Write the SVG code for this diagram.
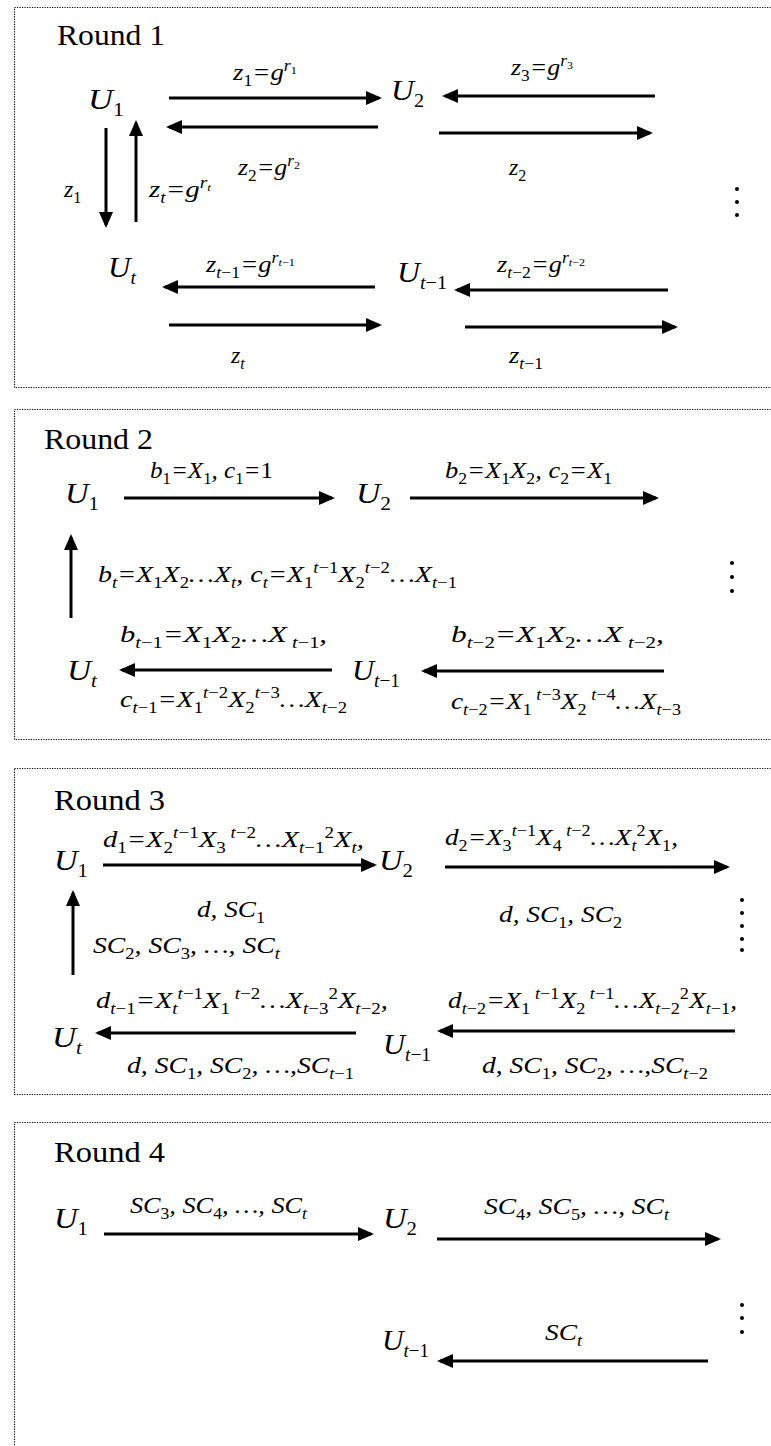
<svg xmlns="http://www.w3.org/2000/svg" width="771" height="1446" viewBox="0 0 771 1446">
<style>
text{font-family:"Liberation Serif","Times New Roman",serif;fill:#000}
.rd{font-size:30px}
.nd{font-size:30px;font-style:italic}
.ns{font-size:19px;baseline-shift:-7px}
.lb{font-size:24px;font-style:italic}
.s{font-size:16px;baseline-shift:-6px}
.p{font-size:16px;baseline-shift:9px}
.q{font-size:11px;baseline-shift:-3px}
.n{font-style:normal}
.bx{fill:none;stroke:#000;stroke-width:1.2;stroke-dasharray:1.2 1.3}
.ar{stroke:#000;stroke-width:3;fill:none;marker-end:url(#ah)}
.dt{fill:#000}
</style>
<defs>
<marker id="ah" viewBox="0 0 16 14" refX="13" refY="7" markerWidth="16" markerHeight="14" markerUnits="userSpaceOnUse" orient="auto">
<path d="M0,0 L16,7 L0,14 z" fill="#000"/>
</marker>
</defs>
<rect fill="#fff" x="0" y="0" width="771" height="1446"/>

<g id="frames">
<rect class="bx" x="14.5" y="7.5" width="780" height="380"/>
<rect class="bx" x="14.5" y="409.5" width="780" height="330"/>
<rect class="bx" x="14.5" y="768.5" width="780" height="326"/>
<rect class="bx" x="14.5" y="1122.5" width="780" height="400"/>
<text class="rd" x="57" y="45" textLength="108" lengthAdjust="spacingAndGlyphs">Round 1</text>
<text class="rd" x="44" y="449" textLength="109" lengthAdjust="spacingAndGlyphs">Round 2</text>
<text class="rd" x="54" y="810" textLength="111" lengthAdjust="spacingAndGlyphs">Round 3</text>
<text class="rd" x="54" y="1162" textLength="111" lengthAdjust="spacingAndGlyphs">Round 4</text>
</g>

<g id="r1-u1"><text class="nd" x="88" y="109" textLength="36" lengthAdjust="spacingAndGlyphs">U<tspan class="ns n">1</tspan></text></g>
<g id="r1-u2"><text class="nd" x="391" y="100" textLength="33" lengthAdjust="spacingAndGlyphs">U<tspan class="ns n">2</tspan></text></g>
<g id="r1-ut"><text class="nd" x="108" y="277" textLength="28" lengthAdjust="spacingAndGlyphs">U<tspan class="ns">t</tspan></text></g>
<g id="r1-ut1"><text class="nd" x="397" y="282" textLength="50" lengthAdjust="spacingAndGlyphs">U<tspan class="ns">t<tspan class="n">−1</tspan></tspan></text></g>

<g id="r2-u1"><text class="nd" x="65" y="503" textLength="34" lengthAdjust="spacingAndGlyphs">U<tspan class="ns n">1</tspan></text></g>
<g id="r2-u2"><text class="nd" x="356" y="503" textLength="35" lengthAdjust="spacingAndGlyphs">U<tspan class="ns n">2</tspan></text></g>
<g id="r2-ut"><text class="nd" x="67" y="680" textLength="30" lengthAdjust="spacingAndGlyphs">U<tspan class="ns">t</tspan></text></g>
<g id="r2-ut1"><text class="nd" x="352" y="680" textLength="48" lengthAdjust="spacingAndGlyphs">U<tspan class="ns">t<tspan class="n">−1</tspan></tspan></text></g>

<g id="r3-u1"><text class="nd" x="54" y="870" textLength="34" lengthAdjust="spacingAndGlyphs">U<tspan class="ns n">1</tspan></text></g>
<g id="r3-u2"><text class="nd" x="379" y="870" textLength="34" lengthAdjust="spacingAndGlyphs">U<tspan class="ns n">2</tspan></text></g>
<g id="r3-ut"><text class="nd" x="52" y="1047" textLength="30" lengthAdjust="spacingAndGlyphs">U<tspan class="ns">t</tspan></text></g>
<g id="r3-ut1"><text class="nd" x="383" y="1054" textLength="48" lengthAdjust="spacingAndGlyphs">U<tspan class="ns">t<tspan class="n">−1</tspan></tspan></text></g>

<g id="r4-u1"><text class="nd" x="54" y="1228" textLength="34" lengthAdjust="spacingAndGlyphs">U<tspan class="ns n">1</tspan></text></g>
<g id="r4-u2"><text class="nd" x="383" y="1228" textLength="34" lengthAdjust="spacingAndGlyphs">U<tspan class="ns n">2</tspan></text></g>
<g id="r4-ut1"><text class="nd" x="382" y="1350" textLength="47" lengthAdjust="spacingAndGlyphs">U<tspan class="ns">t<tspan class="n">−1</tspan></tspan></text></g>

<g id="connectors">
<line class="ar" x1="169" y1="98" x2="379" y2="98"/>
<line class="ar" x1="655" y1="96" x2="445" y2="96"/>
<line class="ar" x1="378" y1="127" x2="169" y2="127"/>
<line class="ar" x1="439" y1="133" x2="650" y2="133"/>
<line class="ar" x1="106" y1="128" x2="106" y2="225"/>
<line class="ar" x1="136" y1="222" x2="136" y2="123"/>
<line class="ar" x1="375" y1="287" x2="165" y2="287"/>
<line class="ar" x1="668" y1="290" x2="457" y2="290"/>
<line class="ar" x1="169" y1="325" x2="379" y2="325"/>
<line class="ar" x1="465" y1="327" x2="675" y2="327"/>

<line class="ar" x1="124" y1="498" x2="332" y2="498"/>
<line class="ar" x1="410" y1="498" x2="656" y2="498"/>
<line class="ar" x1="71" y1="618" x2="71" y2="537"/>
<line class="ar" x1="332" y1="670" x2="122" y2="670"/>
<line class="ar" x1="664" y1="671" x2="424" y2="671"/>

<line class="ar" x1="103" y1="865" x2="374" y2="865"/>
<line class="ar" x1="445" y1="867" x2="727" y2="867"/>
<line class="ar" x1="73" y1="975" x2="73" y2="893"/>
<line class="ar" x1="356" y1="1033" x2="98" y2="1033"/>
<line class="ar" x1="735" y1="1031" x2="440" y2="1031"/>

<line class="ar" x1="104" y1="1234" x2="371" y2="1234"/>
<line class="ar" x1="437" y1="1239" x2="718" y2="1239"/>
<line class="ar" x1="708" y1="1361" x2="440" y2="1361"/>
</g>

<g id="labels">
<text class="lb" x="233" y="80" textLength="64" lengthAdjust="spacingAndGlyphs">z<tspan class="s n">1</tspan>=g<tspan class="p">r<tspan class="q n">1</tspan></tspan></text>
<text class="lb" x="511" y="75" textLength="62" lengthAdjust="spacingAndGlyphs">z<tspan class="s n">3</tspan>=g<tspan class="p">r<tspan class="q n">3</tspan></tspan></text>
<text class="lb" x="238" y="175" textLength="62" lengthAdjust="spacingAndGlyphs">z<tspan class="s n">2</tspan>=g<tspan class="p">r<tspan class="q n">2</tspan></tspan></text>
<text class="lb" x="509" y="175">z<tspan class="s n">2</tspan></text>
<text class="lb" x="64" y="197">z<tspan class="s n">1</tspan></text>
<text class="lb" x="149" y="197" textLength="62" lengthAdjust="spacingAndGlyphs">z<tspan class="s">t</tspan>=g<tspan class="p">r<tspan class="q">t</tspan></tspan></text>
<text class="lb" x="206" y="272" textLength="89" lengthAdjust="spacingAndGlyphs">z<tspan class="s">t<tspan class="n">−1</tspan></tspan>=g<tspan class="p">r<tspan class="q">t<tspan class="n">−1</tspan></tspan></tspan></text>
<text class="lb" x="497" y="272" textLength="88" lengthAdjust="spacingAndGlyphs">z<tspan class="s">t<tspan class="n">−2</tspan></tspan>=g<tspan class="p">r<tspan class="q">t<tspan class="n">−2</tspan></tspan></tspan></text>
<text class="lb" x="231" y="363">z<tspan class="s">t</tspan></text>
<text class="lb" x="509" y="363" textLength="34" lengthAdjust="spacingAndGlyphs">z<tspan class="s">t<tspan class="n">−1</tspan></tspan></text>

<text class="lb" x="150" y="478" textLength="123" lengthAdjust="spacingAndGlyphs">b<tspan class="s n">1</tspan>=X<tspan class="s n">1</tspan>, c<tspan class="s n">1</tspan>=<tspan class="n">1</tspan></text>
<text class="lb" x="445" y="478" textLength="167" lengthAdjust="spacingAndGlyphs">b<tspan class="s n">2</tspan>=X<tspan class="s n">1</tspan>X<tspan class="s n">2</tspan>, c<tspan class="s n">2</tspan>=X<tspan class="s n">1</tspan></text>
<text class="lb" x="98" y="582" textLength="359" lengthAdjust="spacingAndGlyphs">b<tspan class="s">t</tspan>=X<tspan class="s n">1</tspan>X<tspan class="s n">2</tspan>…X<tspan class="s">t</tspan>, c<tspan class="s">t</tspan>=X<tspan class="s n">1</tspan><tspan class="p">t<tspan class="n">−1</tspan></tspan>X<tspan class="s n">2</tspan><tspan class="p">t<tspan class="n">−2</tspan></tspan>…X<tspan class="s">t<tspan class="n">−1</tspan></tspan></text>
<text class="lb" x="120" y="642" textLength="207" lengthAdjust="spacingAndGlyphs">b<tspan class="s">t<tspan class="n">−1</tspan></tspan>=X<tspan class="s n">1</tspan>X<tspan class="s n">2</tspan>…X<tspan class="s"> t<tspan class="n">−1</tspan></tspan>,</text>
<text class="lb" x="451" y="642" textLength="213" lengthAdjust="spacingAndGlyphs">b<tspan class="s">t<tspan class="n">−2</tspan></tspan>=X<tspan class="s n">1</tspan>X<tspan class="s n">2</tspan>…X<tspan class="s"> t<tspan class="n">−2</tspan></tspan>,</text>
<text class="lb" x="120" y="707" textLength="227" lengthAdjust="spacingAndGlyphs">c<tspan class="s">t<tspan class="n">−1</tspan></tspan>=X<tspan class="s n">1</tspan><tspan class="p">t<tspan class="n">−2</tspan></tspan>X<tspan class="s n">2</tspan><tspan class="p">t<tspan class="n">−3</tspan></tspan>…X<tspan class="s">t<tspan class="n">−2</tspan></tspan></text>
<text class="lb" x="451" y="709" textLength="230" lengthAdjust="spacingAndGlyphs">c<tspan class="s">t<tspan class="n">−2</tspan></tspan>=X<tspan class="s n">1</tspan><tspan class="p"> t<tspan class="n">−3</tspan></tspan>X<tspan class="s n">2</tspan><tspan class="p"> t<tspan class="n">−4</tspan></tspan>…X<tspan class="s">t<tspan class="n">−3</tspan></tspan></text>

<text class="lb" x="103" y="847" textLength="261" lengthAdjust="spacingAndGlyphs">d<tspan class="s n">1</tspan>=X<tspan class="s n">2</tspan><tspan class="p">t<tspan class="n">−1</tspan></tspan>X<tspan class="s n">3</tspan><tspan class="p"> t<tspan class="n">−2</tspan></tspan>…X<tspan class="s">t<tspan class="n">−1</tspan></tspan><tspan class="p n">2</tspan>X<tspan class="s">t</tspan>,</text>
<text class="lb" x="445" y="845" textLength="233" lengthAdjust="spacingAndGlyphs">d<tspan class="s n">2</tspan>=X<tspan class="s n">3</tspan><tspan class="p">t<tspan class="n">−1</tspan></tspan>X<tspan class="s n">4</tspan><tspan class="p"> t<tspan class="n">−2</tspan></tspan>…X<tspan class="s">t</tspan><tspan class="p n">2</tspan>X<tspan class="s n">1</tspan>,</text>
<text class="lb" x="197" y="917" textLength="68" lengthAdjust="spacingAndGlyphs">d, SC<tspan class="s n">1</tspan></text>
<text class="lb" x="499" y="922" textLength="123" lengthAdjust="spacingAndGlyphs">d, SC<tspan class="s n">1</tspan>, SC<tspan class="s n">2</tspan></text>
<text class="lb" x="93" y="953" textLength="187" lengthAdjust="spacingAndGlyphs">SC<tspan class="s n">2</tspan>, SC<tspan class="s n">3</tspan>, …, SC<tspan class="s">t</tspan></text>
<text class="lb" x="96" y="1008" textLength="292" lengthAdjust="spacingAndGlyphs">d<tspan class="s">t<tspan class="n">−1</tspan></tspan>=X<tspan class="s">t</tspan><tspan class="p">t<tspan class="n">−1</tspan></tspan>X<tspan class="s n">1</tspan><tspan class="p"> t<tspan class="n">−2</tspan></tspan>…X<tspan class="s">t<tspan class="n">−3</tspan></tspan><tspan class="p n">2</tspan>X<tspan class="s">t<tspan class="n">−2</tspan></tspan>,</text>
<text class="lb" x="448" y="1008" textLength="289" lengthAdjust="spacingAndGlyphs">d<tspan class="s">t<tspan class="n">−2</tspan></tspan>=X<tspan class="s n">1</tspan><tspan class="p"> t<tspan class="n">−1</tspan></tspan>X<tspan class="s n">2</tspan><tspan class="p"> t<tspan class="n">−1</tspan></tspan>…X<tspan class="s">t<tspan class="n">−2</tspan></tspan><tspan class="p n">2</tspan>X<tspan class="s">t<tspan class="n">−1</tspan></tspan>,</text>
<text class="lb" x="127" y="1073" textLength="227" lengthAdjust="spacingAndGlyphs">d, SC<tspan class="s n">1</tspan>, SC<tspan class="s n">2</tspan>, …,SC<tspan class="s">t<tspan class="n">−1</tspan></tspan></text>
<text class="lb" x="482" y="1073" textLength="226" lengthAdjust="spacingAndGlyphs">d, SC<tspan class="s n">1</tspan>, SC<tspan class="s n">2</tspan>, …,SC<tspan class="s">t<tspan class="n">−2</tspan></tspan></text>

<text class="lb" x="130" y="1213" textLength="177" lengthAdjust="spacingAndGlyphs">SC<tspan class="s n">3</tspan>, SC<tspan class="s n">4</tspan>, …, SC<tspan class="s">t</tspan></text>
<text class="lb" x="484" y="1214" textLength="185" lengthAdjust="spacingAndGlyphs">SC<tspan class="s n">4</tspan>, SC<tspan class="s n">5</tspan>, …, SC<tspan class="s">t</tspan></text>
<text class="lb" x="545" y="1340" textLength="37" lengthAdjust="spacingAndGlyphs">SC<tspan class="s">t</tspan></text>
</g>

<g id="dots">
<circle class="dt" cx="737" cy="189" r="2"/><circle class="dt" cx="737" cy="202" r="2"/><circle class="dt" cx="737" cy="215" r="2"/>
<circle class="dt" cx="732" cy="563" r="2"/><circle class="dt" cx="732" cy="577" r="2"/><circle class="dt" cx="732" cy="591" r="2"/>
<circle class="dt" cx="742" cy="900" r="2"/><circle class="dt" cx="742" cy="913" r="2"/><circle class="dt" cx="742" cy="926" r="2"/><circle class="dt" cx="742" cy="939" r="2"/><circle class="dt" cx="742" cy="950" r="2"/>
<circle class="dt" cx="742" cy="1305" r="2"/><circle class="dt" cx="742" cy="1318" r="2"/><circle class="dt" cx="742" cy="1332" r="2"/>
</g>
</svg>
